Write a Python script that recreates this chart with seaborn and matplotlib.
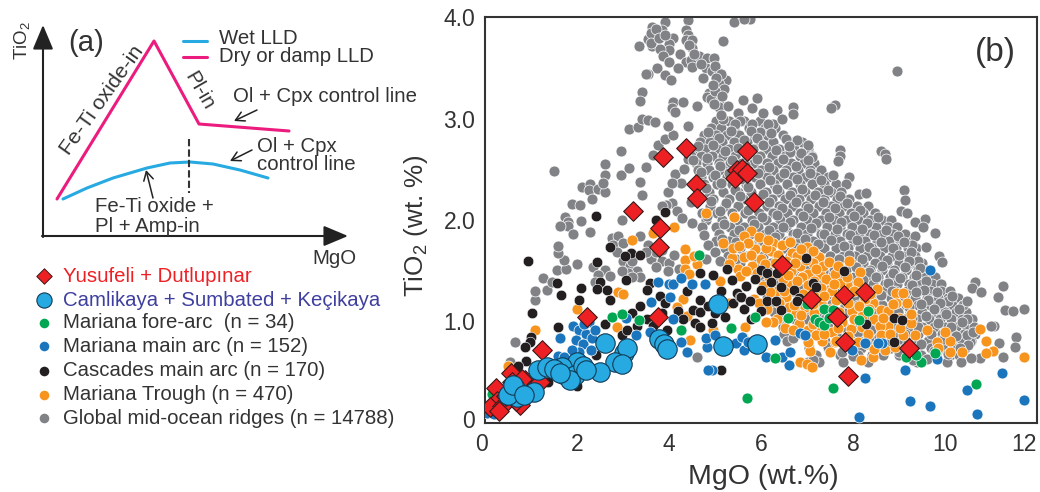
import pandas as pd
import seaborn as sns
from matplotlib import pyplot as plt
from matplotlib import transforms

# Panel (b) data: (MgO, TiO2)
red_mgo = [3.86, 4.38, 4.58, 4.60, 3.21, 3.80, 3.79, 5.47, 5.44, 5.70, 5.58, 5.69, 5.85, 6.46, 7.09, 7.80, 8.26, 7.66,
           7.82, 7.90, 9.22, 3.77, 2.21, 1.23, 0.56, 0.24, 0.25, 0.11, 0.36, 0.76, 0.87, 1.20, 0.94, 0.58, 0.80, 0.68, 0.45, 0.30]
red_tio = [2.62, 2.71, 2.35, 2.22, 2.09, 1.92, 1.73, 2.49, 2.41, 2.68, 2.50, 2.46, 2.18, 1.56, 1.22, 1.26, 1.29, 1.04,
           0.80, 0.46, 0.74, 1.04, 1.04, 0.72, 0.49, 0.34, 0.22, 0.16, 0.17, 0.18, 0.42, 0.40, 0.32, 0.40, 0.43, 0.22, 0.27, 0.12]

big_mgo = [5.07, 5.18, 5.91, 3.78, 3.89, 3.95, 2.61, 3.03, 3.08, 2.82, 2.97, 2.50, 2.01, 1.74, 1.67, 1.96, 2.14, 1.16, 1.34, 1.07, 0.65, 0.70, 0.50,
           1.50, 1.85, 2.20, 1.62, 0.60, 0.85]
big_tio = [1.17, 0.76, 0.78, 0.83, 0.78, 0.73, 0.79, 0.69, 0.74, 0.60, 0.58, 0.50, 0.60, 0.47, 0.55, 0.47, 0.56, 0.52, 0.55, 0.31, 0.34, 0.26, 0.28,
           0.53, 0.42, 0.52, 0.49, 0.37, 0.28]

green_pts = [(5.70, 0.25), (7.57, 0.34), (10.67, 0.38), (9.47, 0.60), (9.15, 0.65), (9.37, 0.67), (9.78, 0.69), (6.30, 0.64),
             (5.88, 1.04), (6.58, 1.03), (7.36, 1.12), (7.18, 1.02), (7.25, 1.00), (7.36, 0.97), (7.57, 1.11), (7.47, 1.03),
             (8.12, 1.01), (8.33, 1.10), (7.00, 1.17), (0.15, 0.29), (2.75, 1.04), (2.97, 1.07), (3.35, 1.01), (4.27, 0.92),
             (5.34, 0.94), (4.66, 1.66)]

blue_pts = [(0.04, 0.10), (0.12, 0.14), (0.20, 0.09), (1.92, 0.96), (2.25, 1.00), (2.05, 0.92), (1.98, 0.82), (2.20, 0.88), (2.12, 0.78),
            (2.32, 0.84), (2.40, 0.92), (2.30, 0.72), (2.05, 0.70), (1.90, 0.72), (1.63, 0.84), (1.59, 0.66), (1.72, 0.65), (2.15, 0.98),
            (3.06, 1.03), (3.29, 0.87), (3.60, 1.19), (3.75, 1.39), (4.00, 1.37), (4.08, 1.37), (4.27, 1.43), (4.51, 1.37), (4.78, 1.37),
            (4.02, 1.24), (3.59, 0.90), (4.09, 1.02), (4.27, 0.80), (4.40, 0.70), (4.82, 0.75), (4.80, 0.84), (5.00, 0.87), (4.93, 0.52),
            (5.45, 0.79), (5.58, 0.85), (5.62, 0.72), (5.72, 0.80), (4.85, 0.52), (9.13, 0.52), (8.25, 0.44), (9.24, 0.22), (9.67, 0.17),
            (10.70, 0.09), (11.72, 0.23), (11.23, 0.49), (10.48, 0.33), (8.12, 0.06), (9.82, 0.63), (7.98, 0.72), (8.27, 0.79), (8.64, 0.79),
            (8.54, 0.79), (6.60, 0.57), (6.45, 0.65), (6.63, 0.70), (6.10, 0.65), (6.30, 0.82), (6.85, 0.89), (6.95, 0.87), (9.67, 1.51)]

black_pts = [(2.41, 2.04), (3.92, 2.08), (3.72, 2.00), (0.94, 1.60), (2.72, 1.73), (3.17, 1.67), (3.37, 1.66), (3.04, 1.65), (2.44, 1.59),
             (1.56, 1.38), (2.50, 1.39), (3.06, 1.41), (2.08, 1.33), (1.65, 1.26), (2.43, 1.32), (2.65, 1.31), (2.05, 1.21), (2.72, 1.21),
             (1.03, 1.08), (3.37, 1.15), (3.20, 1.08), (1.59, 0.95), (2.61, 0.98), (1.01, 0.85), (0.98, 0.80), (0.87, 0.75), (0.89, 0.61),
             (0.72, 0.56), (2.41, 0.67), (1.99, 0.36), (1.38, 0.40), (5.13, 0.52), (2.97, 0.87), (3.08, 0.92), (3.52, 1.02), (3.59, 1.38),
             (3.52, 1.31), (3.80, 1.25), (3.91, 1.18), (3.84, 1.08), (4.67, 1.48), (4.95, 1.46), (5.25, 1.52), (5.36, 1.41), (5.14, 1.30),
             (4.67, 1.21), (4.53, 1.11), (4.67, 1.09), (4.56, 0.99), (4.67, 0.95), (4.93, 0.99), (5.22, 1.04), (5.40, 1.18), (5.47, 1.28),
             (3.30, 0.96), (3.66, 0.96), (3.95, 0.92), (4.20, 1.10), (4.85, 1.15), (5.00, 1.08), (5.55, 1.24), (5.62, 1.12), (5.78, 1.02),
             (6.98, 1.63), (7.80, 1.50), (8.90, 1.03), (9.07, 1.01), (8.28, 0.98), (8.90, 0.80), (6.01, 1.51), (6.12, 1.48), (6.34, 1.48),
             (5.87, 1.42), (6.21, 1.39), (5.67, 1.35), (5.99, 1.31), (6.44, 1.34), (6.72, 1.31), (7.12, 1.38), (7.20, 1.34), (5.56, 1.24),
             (5.76, 1.20), (6.12, 1.20), (6.33, 1.20), (6.83, 1.23), (6.78, 1.20), (6.44, 1.11), (5.99, 1.10), (4.40, 1.30), (4.30, 1.02)]

orange_pts = [(4.80, 2.07), (5.41, 2.03), (4.11, 1.93), (3.20, 1.80), (3.66, 1.87), (4.35, 1.71), (4.35, 1.61), (4.35, 1.52), (4.60, 1.57),
              (4.44, 1.47), (4.55, 1.65), (2.90, 1.29), (3.00, 1.27), (2.01, 1.12), (1.09, 0.92), (4.30, 1.22), (4.17, 1.14), (4.40, 1.05),
              (5.18, 1.77), (5.36, 1.63), (5.40, 1.72), (5.50, 1.52), (5.30, 1.57), (0.51, 0.56), (2.86, 0.95), (0.60, 0.52), (4.45, 0.82),
              (5.79, 1.89), (5.62, 1.84), (5.87, 1.71), (6.27, 1.77), (6.45, 1.75), (7.00, 1.73), (5.62, 1.64), (5.99, 1.62), (6.21, 1.69),
              (6.67, 1.67), (6.78, 1.65), (7.25, 1.64), (7.91, 1.60), (8.15, 1.49), (8.10, 1.39), (7.86, 1.36), (8.93, 1.28), (9.08, 1.28),
              (8.94, 1.18), (9.17, 1.18), (8.44, 1.18), (8.60, 1.11), (8.77, 1.10), (9.27, 0.99), (7.97, 1.10), (7.03, 1.47), (7.28, 1.47),
              (7.46, 1.31), (7.25, 1.25), (6.10, 1.72), (6.38, 1.66), (6.55, 1.60), (6.30, 1.58), (6.85, 1.55), (7.12, 1.58), (7.35, 1.55),
              (6.65, 1.50), (6.90, 1.44), (7.15, 1.40), (7.42, 1.42), (7.60, 1.47), (7.72, 1.38), (7.55, 1.30), (7.75, 1.22), (7.30, 1.18),
              (7.05, 1.28), (6.95, 1.14), (7.50, 1.12), (7.15, 1.08), (6.55, 1.24), (6.60, 1.14), (6.75, 1.08), (6.35, 1.02), (6.52, 0.94),
              (6.82, 0.98), (7.02, 0.92), (7.30, 0.95), (7.55, 0.90), (7.75, 1.00), (7.95, 0.93), (8.20, 0.95), (8.25, 1.22), (8.52, 1.32),
              (8.20, 1.05), (8.45, 1.02), (8.75, 0.96), (8.59, 0.96), (8.60, 0.87), (8.81, 0.88), (9.08, 0.87), (9.35, 0.87), (9.60, 0.92),
              (9.00, 1.03), (8.30, 0.78), (7.60, 0.80), (10.76, 0.93), (10.90, 0.81), (11.05, 0.71), (10.90, 0.69), (11.72, 0.65), (10.38, 0.70),
              (10.10, 0.70), (10.10, 0.81), (10.00, 0.90), (9.83, 0.80), (9.85, 0.74), (8.43, 0.65), (8.17, 0.62), (8.70, 0.72), (8.45, 0.73),
              (6.85, 0.60), (7.00, 0.58), (7.10, 0.55), (7.07, 0.71), (7.50, 0.70), (7.33, 0.81), (7.20, 0.87), (7.62, 0.81), (7.02, 0.80),
              (6.70, 0.92), (6.27, 1.00), (6.10, 1.00), (5.65, 0.95), (5.85, 1.22), (5.55, 1.45), (5.80, 1.55), (6.05, 1.35), (6.35, 1.30),
              (6.60, 1.38), (7.90, 0.75), (8.92, 0.75), (5.60, 0.85), (4.95, 0.92), (5.30, 1.18), (5.10, 1.40)]

orange_dense = [(5.72, 1.77), (5.95, 1.83), (6.15, 1.80), (6.62, 1.78), (6.88, 1.71), (7.14, 1.69), (5.78, 1.66), (6.08, 1.57), (6.47, 1.53),
                (6.73, 1.58), (6.97, 1.61), (7.20, 1.52), (7.48, 1.59), (7.68, 1.55), (5.92, 1.48), (6.18, 1.44), (6.48, 1.42), (6.78, 1.40),
                (7.03, 1.36), (7.30, 1.33), (7.58, 1.37), (7.88, 1.44), (8.02, 1.30), (6.20, 1.29), (6.50, 1.30), (6.92, 1.27), (7.38, 1.25),
                (7.62, 1.21), (7.90, 1.18), (8.12, 1.15), (8.38, 1.27), (6.40, 1.18), (6.72, 1.16), (7.14, 1.17), (7.48, 1.04), (7.70, 1.09),
                (8.02, 1.02), (8.32, 0.88), (6.12, 1.12), (6.86, 1.06), (7.12, 0.98), (7.38, 0.88), (7.68, 0.94), (7.90, 0.86), (8.10, 0.80),
                (8.66, 1.03), (8.88, 1.17), (9.02, 0.94), (9.26, 1.07), (8.35, 1.12), (5.68, 1.50), (5.52, 1.74), (5.95, 1.18), (6.58, 1.46)]

# Global MORB dense core, one list of MgO per TiO2 level
gray_core_levels = [2.98, 2.91, 2.84, 2.77, 2.70, 2.63, 2.56, 2.49, 2.42, 2.35, 2.28, 2.21, 2.14, 2.07, 2.00, 1.93, 1.86, 1.79, 1.72,
                    1.65, 1.58, 1.51, 1.44, 1.37, 1.30, 1.23, 1.16, 1.09, 1.02, 0.95, 0.88, 0.81, 0.74, 0.67, 0.60]
gray_core_mgo = [
    [5.02, 5.31, 5.62, 5.98],
    [4.92, 5.14, 5.41, 5.73, 6.08, 6.31],
    [4.76, 5.03, 5.26, 5.52, 5.84, 6.12, 6.48],
    [4.68, 4.90, 5.16, 5.42, 5.69, 5.96, 6.26, 6.66, 6.90],
    [4.55, 4.79, 5.04, 5.30, 5.56, 5.82, 6.11, 6.40, 6.71, 7.02],
    [4.47, 4.70, 4.93, 5.18, 5.44, 5.70, 5.98, 6.24, 6.52, 6.84, 7.10],
    [4.58, 4.82, 5.08, 5.33, 5.58, 5.85, 6.13, 6.38, 6.66, 6.94, 7.15],
    [4.62, 4.88, 5.17, 5.46, 5.72, 6.00, 6.27, 6.55, 6.81, 7.07, 7.30],
    [4.70, 4.96, 5.26, 5.56, 5.88, 6.14, 6.42, 6.70, 6.96, 7.20, 7.46, 7.92],
    [4.75, 5.05, 5.36, 5.68, 5.98, 6.28, 6.56, 6.84, 7.10, 7.36, 7.62, 7.85],
    [4.88, 5.18, 5.49, 5.78, 6.10, 6.40, 6.68, 6.96, 7.24, 7.52, 7.74],
    [4.96, 5.30, 5.60, 5.92, 6.23, 6.53, 6.82, 7.08, 7.38, 7.65, 7.92],
    [4.90, 5.22, 5.50, 5.81, 6.12, 6.40, 6.70, 6.97, 7.27, 7.53, 7.80, 8.08, 8.32],
    [4.72, 5.04, 5.36, 5.66, 5.95, 6.27, 6.56, 6.85, 7.12, 7.42, 7.69, 7.96, 8.22, 8.48],
    [4.80, 5.15, 5.48, 5.80, 6.10, 6.42, 6.70, 7.00, 7.30, 7.58, 7.84, 8.10, 8.38, 8.62, 8.82],
    [4.72, 5.02, 5.33, 5.62, 5.94, 6.26, 6.55, 6.86, 7.16, 7.44, 7.72, 7.98, 8.25, 8.50, 8.76, 8.95],
    [5.08, 5.42, 5.75, 6.08, 6.40, 6.70, 7.00, 7.30, 7.60, 7.86, 8.12, 8.38, 8.64, 8.88, 9.12],
    [5.02, 5.30, 5.62, 5.96, 6.26, 6.56, 6.85, 7.14, 7.44, 7.72, 8.00, 8.26, 8.52, 8.78, 9.02, 9.28],
    [5.22, 5.55, 5.88, 6.20, 6.50, 6.78, 7.08, 7.36, 7.62, 7.90, 8.16, 8.42, 8.68, 8.94, 9.20, 9.38],
    [5.28, 5.70, 6.04, 6.35, 6.64, 6.94, 7.22, 7.50, 7.78, 8.05, 8.30, 8.58, 8.84, 9.08, 9.35],
    [5.55, 5.90, 6.22, 6.54, 6.82, 7.12, 7.40, 7.68, 7.95, 8.22, 8.48, 8.74, 9.00, 9.26, 9.50],
    [5.82, 6.12, 6.40, 6.72, 7.00, 7.30, 7.58, 7.85, 8.12, 8.38, 8.64, 8.90, 9.16, 9.42, 9.64],
    [6.02, 6.30, 6.60, 6.90, 7.18, 7.46, 7.74, 8.02, 8.28, 8.54, 8.80, 9.06, 9.32, 9.56, 9.78],
    [6.08, 6.42, 6.74, 7.04, 7.34, 7.62, 7.90, 8.18, 8.44, 8.70, 8.96, 9.22, 9.48, 9.72, 9.92],
    [6.05, 6.36, 6.68, 7.00, 7.30, 7.58, 7.86, 8.14, 8.40, 8.66, 8.92, 9.18, 9.44, 9.68, 9.92, 10.10],
    [6.12, 6.48, 6.82, 7.14, 7.44, 7.74, 8.02, 8.30, 8.56, 8.82, 9.08, 9.34, 9.60, 9.84, 10.07, 10.28],
    [6.20, 6.56, 6.90, 7.22, 7.52, 7.82, 8.10, 8.38, 8.64, 8.90, 9.16, 9.42, 9.68, 9.92, 10.16, 10.40],
    [6.28, 6.62, 6.96, 7.30, 7.60, 7.90, 8.18, 8.46, 8.72, 8.98, 9.24, 9.50, 9.76, 10.00, 10.24, 10.46],
    [6.40, 6.74, 7.08, 7.40, 7.72, 8.02, 8.32, 8.60, 8.88, 9.14, 9.40, 9.66, 9.90, 10.14, 10.38, 10.58],
    [6.48, 6.80, 7.14, 7.46, 7.80, 8.10, 8.40, 8.70, 8.98, 9.24, 9.50, 9.76, 10.00, 10.24, 10.48, 10.64],
    [6.49, 6.90, 7.28, 7.62, 7.96, 8.28, 8.58, 8.86, 9.14, 9.42, 9.68, 9.94, 10.18, 10.42, 10.66],
    [6.56, 7.02, 7.40, 7.78, 8.12, 8.44, 8.76, 9.06, 9.34, 9.62, 9.88, 10.14, 10.38, 10.56],
    [7.05, 7.46, 7.82, 8.18, 8.50, 8.82, 9.12, 9.42, 9.70, 9.96, 10.22, 10.44],
    [7.20, 7.72, 8.10, 8.42, 8.66, 9.00, 9.48, 9.80, 10.11, 10.30],
    [7.03, 7.25, 7.79, 8.33, 9.40, 10.04, 10.34],
]

# Irregular points lying over the core
gray_fill = [(5.13, 3.03), (5.44, 2.95), (5.78, 2.88), (6.15, 2.95), (4.85, 2.87), (5.08, 2.81), (5.35, 2.88), (5.63, 2.79), (5.92, 2.81), (6.22, 2.86),
             (6.55, 2.80), (4.62, 2.73), (4.96, 2.74), (5.22, 2.68), (5.49, 2.71), (5.76, 2.66), (6.04, 2.74), (6.33, 2.69), (6.60, 2.73), (6.88, 2.66),
             (4.52, 2.59), (4.83, 2.61), (5.10, 2.53), (5.38, 2.59), (5.66, 2.54), (5.91, 2.60), (6.18, 2.52), (6.47, 2.60), (6.75, 2.53), (7.02, 2.59),
             (4.70, 2.47), (4.99, 2.44), (5.30, 2.46), (5.61, 2.40), (5.93, 2.46), (6.20, 2.39), (6.50, 2.46), (6.78, 2.40), (7.06, 2.46), (7.30, 2.39),
             (7.56, 2.44), (4.80, 2.32), (5.12, 2.36), (5.43, 2.30), (5.72, 2.33), (6.04, 2.26), (6.34, 2.31), (6.62, 2.25), (6.90, 2.31), (7.17, 2.25),
             (7.46, 2.30), (7.72, 2.24), (4.92, 2.19), (5.24, 2.17), (5.55, 2.24), (5.84, 2.17), (6.17, 2.18), (6.46, 2.12), (6.76, 2.18), (7.03, 2.12),
             (7.34, 2.18), (7.60, 2.12), (7.88, 2.17), (8.15, 2.10), (4.82, 2.04), (5.10, 2.09), (5.42, 2.03), (5.72, 2.10), (6.02, 2.03), (6.34, 2.05),
             (6.62, 1.98), (6.92, 2.04), (7.20, 1.97), (7.48, 2.03), (7.74, 1.98), (8.03, 2.04), (8.30, 1.97), (8.55, 2.03), (5.20, 1.96), (5.52, 1.90),
             (5.85, 1.96), (6.18, 1.90), (6.48, 1.93), (6.78, 1.87), (7.08, 1.92), (7.38, 1.86), (7.66, 1.91), (7.94, 1.85), (8.20, 1.91), (8.46, 1.85),
             (8.72, 1.90), (8.98, 1.84), (5.15, 1.81), (5.46, 1.78), (6.30, 1.83), (6.62, 1.79), (6.95, 1.81), (7.24, 1.76), (7.52, 1.80), (7.80, 1.74),
             (8.08, 1.80), (8.34, 1.73), (8.60, 1.78), (8.86, 1.72), (9.10, 1.78), (9.26, 1.68), (7.92, 1.66), (8.20, 1.62), (8.47, 1.68), (8.74, 1.61),
             (9.00, 1.66), (9.22, 1.60), (9.46, 1.53), (8.07, 1.54), (8.35, 1.49), (8.62, 1.55), (8.88, 1.48), (9.14, 1.54), (9.38, 1.46), (9.58, 1.40),
             (8.22, 1.41), (8.50, 1.44), (8.76, 1.38), (9.02, 1.43), (9.28, 1.36), (9.54, 1.31), (9.82, 1.29), (8.60, 1.26), (8.84, 1.30), (9.10, 1.25),
             (9.36, 1.29), (9.62, 1.21), (9.90, 1.18), (10.16, 1.25), (9.22, 1.14), (9.48, 1.17), (9.76, 1.12), (10.02, 1.07), (10.30, 1.12), (10.48, 1.02),
             (9.28, 1.03), (9.58, 1.05), (9.84, 0.99), (10.12, 0.95), (10.36, 1.00), (10.60, 0.90), (9.42, 0.95), (9.70, 0.88), (9.98, 0.83), (10.24, 0.86),
             (10.50, 0.77), (9.20, 0.80), (9.48, 0.78), (9.76, 0.71), (10.06, 0.68), (10.32, 0.74), (9.00, 0.70), (9.30, 0.62), (9.60, 0.63), (8.56, 0.85),
             (8.80, 0.80), (8.40, 0.92), (6.15, 1.75), (5.45, 1.62), (6.70, 1.45), (7.35, 1.50), (7.70, 1.62), (6.45, 1.12), (6.85, 1.33), (7.55, 1.17),
             (7.85, 1.30), (8.10, 0.90), (7.00, 1.02), (7.45, 0.75), (8.00, 0.66), (6.70, 0.84), (7.12, 0.62), (7.75, 0.70)]

gray_peak = [(3.91, 3.95), (4.42, 3.97), (5.42, 3.95), (3.64, 3.90), (3.84, 3.87), (3.55, 3.78), (3.70, 3.82), (3.70, 3.76), (3.64, 3.71),
             (3.60, 3.84), (3.35, 3.71), (4.36, 3.87), (4.42, 3.82), (4.36, 3.77), (4.50, 3.77), (5.17, 3.76), (4.09, 3.79), (4.01, 3.73),
             (4.00, 3.67), (3.80, 3.68), (4.23, 3.64), (3.88, 3.62), (3.99, 3.56), (4.50, 3.69), (4.36, 3.56), (4.47, 3.58), (4.50, 3.51),
             (4.65, 3.62), (4.82, 3.60), (4.98, 3.60), (4.80, 3.50), (4.93, 3.47), (5.08, 3.45), (4.73, 3.40), (5.12, 3.38), (5.23, 3.38),
             (5.09, 3.34), (5.20, 3.29), (4.88, 3.25), (4.82, 3.21), (4.92, 3.19), (5.09, 3.16), (5.09, 3.11), (5.00, 3.27), (3.73, 3.50),
             (3.55, 3.44), (3.50, 3.44), (3.91, 3.43), (4.05, 3.38), (4.20, 3.50), (5.17, 3.00), (5.49, 3.05), (5.80, 3.10), (6.34, 3.08),
             (6.70, 3.11), (6.70, 3.04), (7.60, 3.13), (7.52, 3.10), (6.27, 2.95), (5.80, 2.95), (5.98, 2.87), (6.78, 2.79), (7.03, 2.74),
             (6.63, 2.67), (7.10, 2.62), (7.72, 2.69), (7.72, 2.63), (7.68, 2.58), (8.60, 2.68), (8.70, 2.65), (8.72, 2.60), (8.95, 3.47),
             (5.75, 3.98), (5.62, 3.98), (3.72, 3.88), (3.60, 3.74), (3.78, 3.79), (3.92, 3.82), (4.44, 3.72), (4.55, 3.64), (4.70, 3.54),
             (5.00, 3.52), (5.14, 3.44), (5.02, 3.40), (4.95, 3.33), (5.15, 3.22), (4.98, 3.14), (5.28, 3.12), (5.60, 3.18), (5.92, 3.20),
             (6.05, 3.05), (5.55, 2.98), (6.45, 3.00)]

gray_left = [(1.50, 2.48), (2.61, 2.55), (2.61, 2.44), (2.95, 2.44), (2.95, 2.68), (3.12, 2.51), (3.51, 2.52), (3.66, 2.64), (3.77, 2.74),
             (3.92, 2.80), (4.09, 2.84), (3.98, 2.93), (4.42, 2.93), (3.12, 2.90), (3.33, 2.92), (3.41, 3.00), (3.55, 2.99), (3.69, 2.97),
             (3.41, 3.26), (3.38, 3.17), (4.09, 3.16), (4.07, 3.10), (4.13, 3.06), (4.31, 3.16), (4.60, 3.12), (1.90, 2.16), (2.07, 2.15),
             (1.74, 2.03), (1.63, 1.94), (2.08, 1.99), (1.80, 1.98), (2.10, 2.33), (2.28, 2.35), (2.25, 2.30), (2.46, 2.31), (2.61, 2.28),
             (2.57, 2.36), (2.32, 2.21), (3.37, 2.37), (3.41, 2.25), (2.97, 2.00), (3.98, 2.28), (4.07, 2.17), (3.93, 2.15), (4.18, 2.09),
             (3.84, 2.14), (4.14, 2.45), (4.25, 2.36), (4.07, 2.36), (4.50, 1.97), (0.65, 0.80), (0.54, 0.60), (1.09, 1.21), (1.09, 1.30),
             (1.34, 1.31), (1.27, 1.43), (1.45, 1.39), (1.57, 1.51), (1.77, 1.52), (1.99, 1.57), (1.72, 1.61), (1.59, 1.67), (1.59, 1.74),
             (1.81, 1.94), (1.92, 1.86), (2.28, 1.88), (1.63, 1.94), (2.35, 1.54), (2.61, 1.51), (2.46, 1.46), (2.39, 1.39), (2.72, 1.45),
             (2.75, 1.82), (2.90, 1.84), (2.79, 1.75), (3.00, 1.77), (3.37, 1.84), (3.55, 1.75), (3.00, 1.60), (3.15, 1.55), (3.30, 1.50),
             (3.10, 1.48), (2.97, 1.50), (3.37, 1.44), (3.20, 1.44), (3.60, 1.62), (3.72, 1.68), (3.85, 1.60), (4.00, 1.58), (4.10, 1.66),
             (4.60, 0.65), (3.85, 1.70), (4.75, 1.85), (4.85, 1.75), (5.00, 1.68), (4.80, 1.62), (5.10, 1.60), (3.72, 1.54), (3.50, 1.68),
             (3.98, 1.50), (4.22, 1.52), (4.42, 2.60), (4.32, 2.50), (4.48, 2.18), (4.28, 2.02), (3.20, 1.60), (2.88, 1.68)]

gray_tail = [(8.12, 2.26), (8.28, 2.27), (9.10, 2.30), (9.12, 2.20), (9.05, 2.09), (9.17, 2.07), (9.56, 2.01), (9.35, 1.98), (9.53, 1.93),
             (9.78, 1.87), (9.35, 1.84), (9.28, 1.75), (9.58, 1.73), (9.88, 1.65), (9.93, 1.59), (9.20, 1.58), (9.42, 1.60), (10.65, 1.39),
             (10.58, 1.33), (10.78, 1.29), (11.25, 1.35), (11.15, 1.24), (11.30, 1.11), (11.47, 1.10), (11.72, 1.12), (10.40, 1.16),
             (10.47, 1.20), (10.07, 1.20), (11.54, 0.85), (11.52, 0.75), (11.18, 0.79), (11.27, 0.65), (11.07, 0.96), (11.00, 0.96),
             (10.77, 0.64), (10.56, 0.64), (10.54, 0.80), (10.47, 0.87)]

series_labels = ['Yusufeli + Dutlupınar', 'Camlikaya + Sumbated + Keçikaya', 'Mariana fore-arc  (n = 34)', 'Mariana main arc (n = 152)',
                 'Cascades main arc (n = 170)', 'Mariana Trough (n = 470)', 'Global mid-ocean ridges (n = 14788)']

# Panel (a) schematic, in picture pixels
dry_line_x = [57, 154, 199, 289]
dry_line_y = [199, 41, 124, 131]
wet_line_x = [63, 87, 113, 147, 170, 190, 213, 240, 268]
wet_line_y = [199, 188, 178, 168, 163, 162, 164, 170, 178]

GRAY = '#808285'
ORANGE = '#F7941D'
BLACK = '#231F20'
BLUE = '#1B75BC'
GREEN = '#00A651'
RED = '#ED2024'
CYAN = '#27AAE1'
PINK = '#EC1C7E'
TEXT = '#333333'

sns.set_theme(style='white')
plt.rcParams['font.family'] = ['Liberation Sans', 'DejaVu Sans']
plt.rcParams['mathtext.fontset'] = 'custom'
plt.rcParams['mathtext.rm'] = 'Liberation Sans'
plt.rcParams['mathtext.default'] = 'regular'
plt.rcParams['text.color'] = TEXT

fig = plt.figure(figsize=(10.4, 4.92), dpi=100)

# Overlay in pixel coordinates for panel (a) and the legend
over = fig.add_axes([0, 0, 1, 1])
over.set_xlim(0, 1040)
over.set_ylim(492, 0)
over.axis('off')

ax = fig.add_axes([485 / 1040, (492 - 423) / 492, 552 / 1040, 406 / 492])


def to_frame(pts):
    return pd.DataFrame(pts, columns=['mgo', 'tio'])


core = [(m, lev) for lev, row in zip(gray_core_levels, gray_core_mgo) for m in row]
gray_df = to_frame(core + gray_peak + gray_left + gray_tail + gray_fill)

# Order of layers as in the figure
sns.scatterplot(data=gray_df, x='mgo', y='tio', color=GRAY, s=62, edgecolor='white', linewidth=0.5, ax=ax, zorder=2)
sns.scatterplot(data=to_frame(orange_pts + orange_dense), x='mgo', y='tio', color=ORANGE, s=62, edgecolor='white', linewidth=0.5, ax=ax, zorder=3)
sns.scatterplot(data=to_frame(black_pts), x='mgo', y='tio', color=BLACK, s=58, edgecolor='white', linewidth=0.4, ax=ax, zorder=4)
sns.scatterplot(data=to_frame(blue_pts), x='mgo', y='tio', color=BLUE, s=62, edgecolor='white', linewidth=0.5, ax=ax, zorder=5)
sns.scatterplot(data=to_frame(green_pts), x='mgo', y='tio', color=GREEN, s=62, edgecolor='white', linewidth=0.5, ax=ax, zorder=6)
sns.scatterplot(x=red_mgo, y=red_tio, marker='D', color=RED, s=100, edgecolor='#3a1a1a', linewidth=0.8, ax=ax, zorder=7)
sns.scatterplot(x=big_mgo, y=big_tio, color=CYAN, s=195, edgecolor='#123a55', linewidth=0.8, ax=ax, zorder=8)

ax.set_xlim(0, 12)
ax.set_ylim(0, 4)
ax.set_xticks([0, 2, 4, 6, 8, 10, 12])
ax.set_yticks([0, 0.5, 1, 1.5, 2, 2.5, 3, 3.5, 4])
ax.set_yticklabels(['0', '', '1.0', '', '2.0', '', '3.0', '', '4.0'])
ax.tick_params(axis='x', direction='in', length=10, width=1.1, color=TEXT, labelsize=16.5, labelcolor=TEXT, pad=7)
ax.tick_params(axis='y', direction='in', length=11.5, width=1.1, color=TEXT, labelsize=16.5, labelcolor=TEXT, pad=7)
for side in ax.spines.values():
    side.set_linewidth(1.5)
    side.set_color(TEXT)

# End labels sit inside the tick positions in the figure
ax.get_xticklabels()[-1].set_ha('right')
ax.get_xticklabels()[0].set_transform(ax.get_xticklabels()[0].get_transform() + transforms.ScaledTranslation(-4 / 100, 0, fig.dpi_scale_trans))
ax.get_yticklabels()[0].set_transform(ax.get_yticklabels()[0].get_transform() + transforms.ScaledTranslation(0, 4 / 100, fig.dpi_scale_trans))

ax.set_xlabel('MgO (wt.%)', fontsize=20.5, color=TEXT)
ax.xaxis.set_label_coords(0.504, -0.1)
ax.set_ylabel('TiO$_2$ (wt. %)', fontsize=18.8, color=TEXT)
ax.yaxis.set_label_coords(-0.1, 0.485)
ax.text(975, 53, '(b)', fontsize=24, ha='left', va='center', transform=over.transData, zorder=10)

# Panel (a)
sns.lineplot(x=dry_line_x, y=dry_line_y, color=PINK, linewidth=2.2, sort=False, estimator=None, ax=over)
sns.lineplot(x=wet_line_x, y=wet_line_y, color=CYAN, linewidth=2.2, sort=False, estimator=None, ax=over)
over.plot([183, 207], [41, 41], color=CYAN, lw=2.2)
over.plot([183, 207], [57, 57], color=PINK, lw=2.2)
over.plot([189, 189], [139, 193], color=TEXT, lw=1.5, ls=(0, (3.5, 1.5)))

big_arrow = dict(arrowstyle='-|>,head_length=1.0,head_width=0.42', color='#222222', lw=1.5, shrinkA=0, shrinkB=0, mutation_scale=15)
over.annotate('', xy=(43, 25), xytext=(43, 237), arrowprops=big_arrow)
over.annotate('', xy=(348, 236), xytext=(42, 236), arrowprops=big_arrow)
small_arrow = dict(arrowstyle='->,head_length=0.45,head_width=0.25', color='#222222', lw=1.1, shrinkA=0, shrinkB=0, mutation_scale=14)
over.annotate('', xy=(234, 121), xytext=(257, 110), arrowprops=small_arrow)
over.annotate('', xy=(230, 161), xytext=(252, 150), arrowprops=small_arrow)
over.annotate('', xy=(146, 170), xytext=(153, 198), arrowprops=small_arrow)

kw = dict(fontsize=14.7, va='center', ha='left')
over.text(68, 43, '(a)', fontsize=21, va='center', ha='left')
over.text(219, 38, 'Wet LLD', **kw)
over.text(219, 57, 'Dry or damp LLD', **kw)
over.text(233, 96, 'Ol + Cpx control line', **kw)
over.text(257, 146, 'Ol + Cpx', **kw)
over.text(257, 165, 'control line', **kw)
over.text(95, 207, 'Fe-Ti oxide +', **kw)
over.text(95, 226, 'Pl + Amp-in', **kw)
over.text(312, 258, 'MgO', **kw)
over.text(22, 41, 'TiO$_2$', fontsize=13.5, rotation=90, va='center', ha='center')
over.text(102, 100, 'Fe-Ti oxide-in', fontsize=15.3, rotation=54.5, va='center', ha='center', rotation_mode='anchor')
over.text(199, 91, 'Pl-in', fontsize=14.7, rotation=-60, va='center', ha='center', rotation_mode='anchor')

# Legend
legend_y = [276, 300, 323, 346, 371, 395, 418]
legend_styles = [dict(marker='D', color=RED, s=62, edgecolor='#3a1a1a', linewidth=0.7),
                 dict(marker='o', color=CYAN, s=120, edgecolor='#123a55', linewidth=0.8),
                 dict(marker='o', color=GREEN, s=48, linewidth=0),
                 dict(marker='o', color=BLUE, s=48, linewidth=0),
                 dict(marker='o', color=BLACK, s=48, linewidth=0),
                 dict(marker='o', color=ORANGE, s=48, linewidth=0),
                 dict(marker='o', color=GRAY, s=48, linewidth=0)]
legend_colors = [RED, '#3F3F9F', TEXT, TEXT, TEXT, TEXT, TEXT]
for y, style, lab, col in zip(legend_y, legend_styles, series_labels, legend_colors):
    over.scatter([44], [y], **style)
    over.text(63, y, lab, color=col, fontsize=14.7, va='center', ha='left')

fig.savefig('out.png', dpi=100)
